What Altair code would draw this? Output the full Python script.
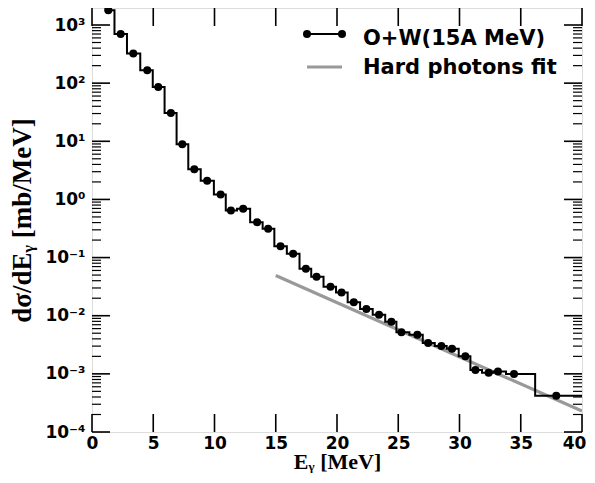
import altair as alt
import pandas as pd

# ---- data ----
energy = [0.92, 1.33, 2.34, 3.37, 4.51, 5.41, 6.44, 7.37, 8.35, 9.40, 10.50,
          11.34, 12.34, 13.48, 14.38, 15.39, 16.42, 17.46, 18.33, 19.47, 20.37,
          21.37, 22.40, 23.43, 24.44, 25.26, 26.56, 27.44, 28.52, 29.39, 30.48,
          31.30, 32.38, 33.14, 34.45, 37.90, 42.50]
xsec = [3000, 1800, 700, 325, 167, 86, 30.8, 8.9, 3.29, 2.1, 1.22,
        0.645, 0.69, 0.406, 0.312, 0.157, 0.116, 0.064, 0.047, 0.0316, 0.0251,
        0.017, 0.013, 0.0104, 0.0079, 0.0052, 0.0047, 0.0034, 0.0030, 0.0027, 0.0020,
        0.00116, 0.00105, 0.0011, 0.00099, 0.00042, 0.00042]

fit_energy = [15.0, 40.0]
fit_xsec = [0.049, 0.00023]

x_ticks = [0, 5, 10, 15, 20, 25, 30, 35, 40]
y_major = [1e-4, 1e-3, 1e-2, 1e-1, 1e0, 1e1, 1e2, 1e3]
Y_TOP = 1961
y_minor = [m * 10.0 ** k for k in range(-4, 4) for m in range(2, 10) if m * 10.0 ** k < Y_TOP]

series_name = "O+W(15A MeV)"
fit_name = "Hard photons fit"

W, H = 490, 424

data_df = pd.DataFrame({"E": energy, "val": xsec})
fit_df = pd.DataFrame({"E": fit_energy, "val": fit_xsec})
xt_df = pd.DataFrame({"E": x_ticks})
ymaj_df = pd.DataFrame({"val": y_major})
ymin_df = pd.DataFrame({"val": y_minor})
one = pd.DataFrame({"a": [0]})

label_expr = ("['10\u207b\u2074','10\u207b\u00b3','10\u207b\u00b2','10\u207b\u00b9',"
              "'10\u2070','10\u00b9','10\u00b2','10\u00b3'][round(log(datum.value)/LN10)+4]")

xaxis = alt.Axis(values=x_ticks, ticks=False, domain=False, grid=False,
                 labelFont="DejaVu Sans", labelFontWeight="bold", labelFontSize=17,
                 labelColor="black", labelPadding=3, labelFlush=False, labelOverlap=False,
                 labelOffset={"condition": {"test": "datum.value == 40", "value": -8}, "value": 0},
                 title="E\u1d67 [MeV]", titleFont="Liberation Serif", titleFontSize=22,
                 titleFontWeight="bold", titleColor="black", titlePadding=0)
yaxis = alt.Axis(values=y_major, ticks=False, domain=False, grid=False,
                 labelExpr=label_expr,
                 labelFont="DejaVu Sans", labelFontWeight="bold", labelFontSize=17,
                 labelColor="black", labelPadding=7, labelFlush=False, labelOverlap=False,
                 title="d\u03c3/dE\u1d67 [mb/MeV]", titleFont="Liberation Serif",
                 titleFontSize=27, titleFontWeight="bold", titleColor="black",
                 titlePadding=8)

xscale = alt.Scale(domain=[0, 40], nice=False, zero=False)
yscale = alt.Scale(type="log", domain=[1e-4, Y_TOP], nice=False)

X = alt.X("E:Q", scale=xscale, axis=xaxis)
Y = alt.Y("val:Q", scale=yscale, axis=yaxis)

step = alt.Chart(data_df).mark_line(interpolate="step", color="black", strokeWidth=2,
                                     clip=True).encode(x=X, y=Y)
pts = alt.Chart(data_df).mark_circle(color="black", size=64, opacity=1,
                                      clip=True).encode(x=X, y=Y)
fit = alt.Chart(fit_df).mark_line(color="#999999", strokeWidth=3.2,
                                   clip=True).encode(x=X, y=Y)

MAJ, MIN = 18, 9
xt_bot = alt.Chart(xt_df).mark_rule(color="black", strokeWidth=1.6).encode(
    x=X, y=alt.value(H), y2=alt.value(H - MAJ))
xt_top = alt.Chart(xt_df).mark_rule(color="black", strokeWidth=1.6).encode(
    x=X, y=alt.value(0), y2=alt.value(MAJ))
yt_l = alt.Chart(ymaj_df).mark_rule(color="black", strokeWidth=1.6).encode(
    y=Y, x=alt.value(0), x2=alt.value(MAJ))
yt_r = alt.Chart(ymaj_df).mark_rule(color="black", strokeWidth=1.6).encode(
    y=Y, x=alt.value(W), x2=alt.value(W - MAJ))
ym_l = alt.Chart(ymin_df).mark_rule(color="black", strokeWidth=1.2).encode(
    y=Y, x=alt.value(0), x2=alt.value(MIN))
ym_r = alt.Chart(ymin_df).mark_rule(color="black", strokeWidth=1.2).encode(
    y=Y, x=alt.value(W), x2=alt.value(W - MIN))

# ---- manual legend ----
LX1, LX2, LT = 215, 250, 271
R1, R2 = 26, 59
leg_line1 = alt.Chart(one).mark_rule(color="black", strokeWidth=2).encode(
    x=alt.value(LX1), x2=alt.value(LX2), y=alt.value(R1))
leg_pt1 = alt.Chart(one).mark_circle(color="black", size=64, opacity=1).encode(
    x=alt.value(LX1), y=alt.value(R1))
leg_pt2 = alt.Chart(one).mark_circle(color="black", size=64, opacity=1).encode(
    x=alt.value(LX2), y=alt.value(R1))
leg_txt1 = alt.Chart(one).mark_text(align="left", baseline="alphabetic", font="DejaVu Sans",
                                    fontWeight="bold", fontSize=21, color="black").encode(
    x=alt.value(LT), y=alt.value(R1 + 11), text=alt.value(series_name))
leg_line2 = alt.Chart(one).mark_rule(color="#999999", strokeWidth=3.2).encode(
    x=alt.value(LX1), x2=alt.value(LX2), y=alt.value(R2))
leg_txt2 = alt.Chart(one).mark_text(align="left", baseline="alphabetic", font="DejaVu Sans",
                                    fontWeight="bold", fontSize=21, color="black").encode(
    x=alt.value(LT), y=alt.value(R2 + 7), text=alt.value(fit_name))

chart = alt.layer(
    fit, step, pts, xt_bot, xt_top, yt_l, yt_r, ym_l, ym_r,
    leg_line1, leg_pt1, leg_pt2, leg_txt1, leg_line2, leg_txt2
).properties(
    width=W, height=H,
    autosize=alt.AutoSizeParams(type="none"),
    padding={"left": 84, "top": 0, "right": 5, "bottom": 43},
).configure_view(stroke="black", strokeWidth=2).configure(background="white")

chart.save("out.html", embed_options={"renderer": "svg", "actions": False})
